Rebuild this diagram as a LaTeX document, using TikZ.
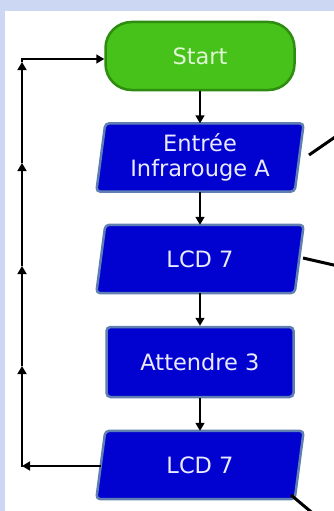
\documentclass[tikz,border=0pt]{standalone}
\usepackage{fontspec}
\setmainfont{DejaVu Sans}
\usetikzlibrary{arrows.meta,backgrounds}
\definecolor{bgblue}{HTML}{CBD7F3}
\definecolor{boxblue}{HTML}{0202D0}
\definecolor{boxedge}{HTML}{5F7FB2}
\definecolor{startfill}{HTML}{47C21A}
\definecolor{startedge}{HTML}{2E8C10}
\definecolor{txtblue}{HTML}{EAEAFF}
\definecolor{txtgreen}{HTML}{E0F6D6}
\tikzset{
  lbl/.style={font=\fontsize{22.5}{25}\selectfont, align=center, inner sep=0pt},
  startbox/.style={lbl, rectangle, rounded corners=26pt, fill=startfill, draw=startedge,
    line width=2.5pt, minimum width=189pt, minimum height=68pt, text=txtgreen},
  procbox/.style={lbl, rectangle, rounded corners=4pt, fill=boxblue, draw=boxedge,
    line width=2.5pt, minimum width=187pt, minimum height=70pt, text=txtblue},
  iotext/.style={lbl, rectangle, minimum width=198pt, minimum height=68pt, text=txtblue},
  iobox/.style={fill=boxblue, draw=boxedge, line width=2.5pt, rounded corners=4pt},
  flow/.style={line width=1.5pt, -{Triangle[width=9pt,length=8pt]}},
  plain/.style={line width=1.5pt},
  wire/.style={line width=3pt, black}
}
\begin{document}
\begin{tikzpicture}[x=1pt,y=-1pt]
\useasboundingbox (0,0) rectangle (334,511);
\node[startbox] (start) at (200,56) {Start};
\node[iotext] (inp) at (200,157.5) {Entrée\\Infrarouge A};
\node[iotext] (lcda) at (200,259) {LCD 7};
\node[procbox] (wait) at (200,362) {Attendre 3};
\node[iotext] (lcdb) at (200,465) {LCD 7};
\begin{scope}[on background layer]
  \fill[bgblue] (0,0) rectangle (334,511);
  \fill[white] (5,11) rectangle (334,511);
  \foreach \n in {inp,lcda,lcdb}{
    \draw[iobox] ([xshift=4.5pt]\n.north west) -- ([xshift=4.5pt]\n.north east)
      -- ([xshift=-4.5pt]\n.south east) -- ([xshift=-4.5pt]\n.south west) -- cycle;
  }
\end{scope}
% main flow
\draw[flow] (start) -- (inp);
\draw[flow] (inp) -- (lcda);
\draw[flow] (lcda) -- (wait);
\draw[flow] (wait) -- (lcdb);
% loop back
\coordinate (c1) at (22,466);
\coordinate (m1) at (22,366);
\coordinate (m2) at (22,266);
\coordinate (m3) at (22,163);
\coordinate (m4) at (22,62);
\coordinate (c2) at (22,59);
\draw[flow] (lcdb.west |- c1) -- (c1);
\draw[plain] (c1) -- ([yshift=-0.75pt]c1);
\draw[flow] (c1) -- (m1);
\draw[flow] (m1) -- (m2);
\draw[flow] (m2) -- (m3);
\draw[flow] (m3) -- (m4);
\draw[plain] (m4) -- (c2);
\draw[flow] ([xshift=-0.75pt]c2) -- (c2 -| start.west);
% wires leaving the picture
\coordinate (w1a) at (309,155);
\coordinate (w1b) at (338,135);
\coordinate (w2a) at (303,258);
\coordinate (w2b) at (338,266);
\coordinate (w3a) at (291,495);
\coordinate (w3b) at (316,516);
\draw[wire] (w1a) -- (w1b);
\draw[wire] (w2a) -- (w2b);
\draw[wire] (w3a) -- (w3b);
\end{tikzpicture}
\end{document}
